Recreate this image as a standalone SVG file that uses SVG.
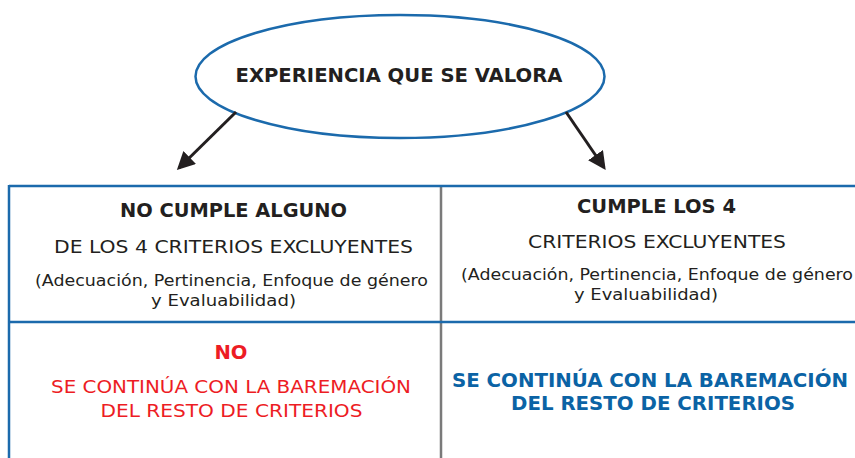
<svg xmlns="http://www.w3.org/2000/svg" width="855" height="458" viewBox="0 0 855 458">
<style>
text{font-family:"DejaVu Sans","Liberation Sans",sans-serif;text-anchor:middle;fill:#231f20}
.b{font-weight:bold}
.red{fill:#ed1c24}
.blue{fill:#0b63a5}
.bl{stroke:#1b6aac;stroke-width:2.5;fill:none}
.gr{stroke:#7a7a7a;stroke-width:2.5;fill:none}
.arr{stroke:#231f20;stroke-width:3;fill:none;marker-end:url(#ah)}
</style>
<defs>
<marker id="ah" markerWidth="6" markerHeight="6" refX="5" refY="3" orient="auto" markerUnits="strokeWidth">
<path d="M0,0 L6,3 L0,6 z" fill="#231f20"/>
</marker>
</defs>
<rect width="855" height="458" fill="#fff"/>
<g id="root">
<ellipse cx="400" cy="76.5" rx="204.5" ry="61.5" fill="#fff" stroke="#1b6aac" stroke-width="2.5"/>
<text class="b" x="399" y="82" font-size="19.5" textLength="327" lengthAdjust="spacingAndGlyphs">EXPERIENCIA QUE SE VALORA</text>
</g>
<g id="connectors">
<line class="arr" x1="236" y1="112" x2="179" y2="168"/>
<line class="arr" x1="566" y1="112" x2="604" y2="167.5"/>
</g>
<g id="table">
<line class="gr" x1="441" y1="186" x2="441" y2="458"/>
<line class="bl" x1="9" y1="186" x2="855" y2="186"/>
<line class="bl" x1="9" y1="322" x2="855" y2="322"/>
<line class="bl" x1="9" y1="185" x2="9" y2="458"/>
</g>
<g id="no-cumple">
<text class="b" x="233.5" y="217" font-size="19" textLength="227" lengthAdjust="spacingAndGlyphs">NO CUMPLE ALGUNO</text>
<text x="233.5" y="252.5" font-size="17" textLength="359" lengthAdjust="spacingAndGlyphs">DE LOS 4 CRITERIOS EXCLUYENTES</text>
<text x="231.5" y="286" font-size="16.5" textLength="393" lengthAdjust="spacingAndGlyphs">(Adecuación, Pertinencia, Enfoque de género</text>
<text x="223.5" y="306" font-size="16.5" textLength="145" lengthAdjust="spacingAndGlyphs">y Evaluabilidad)</text>
</g>
<g id="cumple">
<text class="b" x="656.5" y="213" font-size="19" textLength="159" lengthAdjust="spacingAndGlyphs">CUMPLE LOS 4</text>
<text x="657" y="248" font-size="17" textLength="258" lengthAdjust="spacingAndGlyphs">CRITERIOS EXCLUYENTES</text>
<text x="657" y="280" font-size="16.5" textLength="392" lengthAdjust="spacingAndGlyphs">(Adecuación, Pertinencia, Enfoque de género</text>
<text x="646" y="300" font-size="16.5" textLength="144" lengthAdjust="spacingAndGlyphs">y Evaluabilidad)</text>
</g>
<g id="no-result">
<text class="b red" x="231" y="359" font-size="19" textLength="33" lengthAdjust="spacingAndGlyphs">NO</text>
<text class="red" x="231" y="393" font-size="18" textLength="360" lengthAdjust="spacingAndGlyphs">SE CONTINÚA CON LA BAREMACIÓN</text>
<text class="red" x="231.5" y="417" font-size="18" textLength="262" lengthAdjust="spacingAndGlyphs">DEL RESTO DE CRITERIOS</text>
</g>
<g id="yes-result">
<text class="b blue" x="650" y="386.5" font-size="19" textLength="396" lengthAdjust="spacingAndGlyphs">SE CONTINÚA CON LA BAREMACIÓN</text>
<text class="b blue" x="653" y="410" font-size="19" textLength="284" lengthAdjust="spacingAndGlyphs">DEL RESTO DE CRITERIOS</text>
</g>
</svg>
